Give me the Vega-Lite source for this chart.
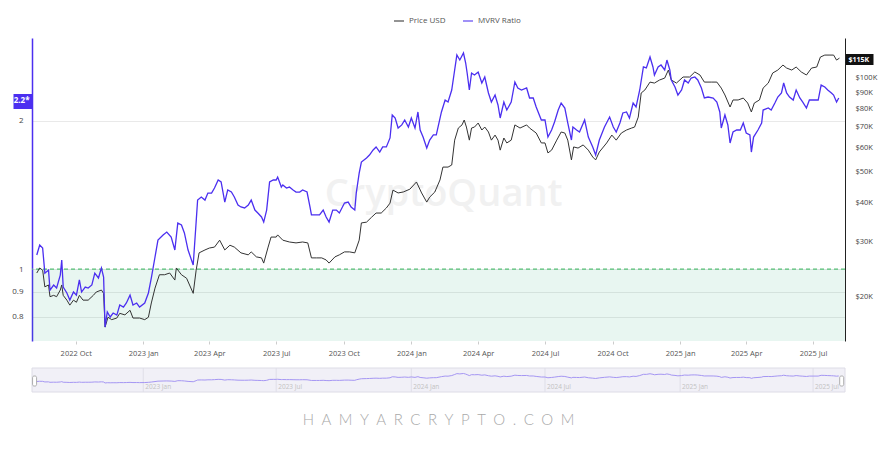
{
  "$schema": "https://vega.github.io/schema/vega-lite/v6.json",
  "width": 813,
  "height": 354,
  "autosize": {"type": "none"},
  "padding": {"left": 32, "top": 38, "right": 40, "bottom": 62},
  "background": "white",
  "config": {"view": {"stroke": null}, "font": "Open Sans", "axis": {"labelFont": "Open Sans"}, "legend": {"labelFont": "Open Sans"}},
  "title": {"text": "H\u2002A\u2002M\u2002Y\u2002A\u2002R\u2002C\u2002R\u2002Y\u2002P\u2002T\u2002O\u2002.\u2002C\u2002O\u2002M", "orient": "bottom", "frame": "group", "anchor": "middle", "offset": 20, "fontSize": 15, "fontWeight": 300, "font": "Lato", "color": "#a9a9a9"},
  "datasets": {
    "price": [
      {"date":"2022-08-09","price":23700},{"date":"2022-08-13","price":24600},{"date":"2022-08-17","price":24200},{"date":"2022-08-20","price":21400},{"date":"2022-08-25","price":21700},{"date":"2022-08-27","price":19900},{"date":"2022-09-01","price":20100},{"date":"2022-09-05","price":19900},{"date":"2022-09-10","price":20900},{"date":"2022-09-12","price":21700},{"date":"2022-09-14","price":20100},{"date":"2022-09-19","price":19400},{"date":"2022-09-23","price":18700},{"date":"2022-09-28","price":19400},{"date":"2022-10-02","price":19100},{"date":"2022-10-06","price":20100},{"date":"2022-10-11","price":19400},{"date":"2022-10-18","price":19400},{"date":"2022-10-25","price":20100},{"date":"2022-10-29","price":20600},{"date":"2022-11-05","price":20900},{"date":"2022-11-08","price":20400},{"date":"2022-11-10","price":15900},{"date":"2022-11-14","price":17100},{"date":"2022-11-19","price":16800},{"date":"2022-11-26","price":17000},{"date":"2022-11-30","price":17600},{"date":"2022-12-07","price":17400},{"date":"2022-12-14","price":18000},{"date":"2022-12-18","price":17000},{"date":"2022-12-27","price":17000},
      {"date":"2023-01-03","price":16800},{"date":"2023-01-08","price":17100},{"date":"2023-01-12","price":19000},{"date":"2023-01-17","price":21200},{"date":"2023-01-23","price":23400},{"date":"2023-01-30","price":23400},{"date":"2023-02-06","price":23700},{"date":"2023-02-13","price":22500},{"date":"2023-02-15","price":24600},{"date":"2023-02-22","price":23400},{"date":"2023-03-01","price":22800},{"date":"2023-03-10","price":20400},{"date":"2023-03-14","price":24200},{"date":"2023-03-18","price":27500},{"date":"2023-03-26","price":28100},{"date":"2023-04-01","price":28500},{"date":"2023-04-08","price":28700},{"date":"2023-04-15","price":30200},{"date":"2023-04-22","price":28100},{"date":"2023-04-29","price":29100},{"date":"2023-05-05","price":28700},{"date":"2023-05-14","price":27500},{"date":"2023-05-24","price":27100},{"date":"2023-05-28","price":27700},{"date":"2023-06-04","price":26700},{"date":"2023-06-11","price":26500},{"date":"2023-06-14","price":25500},{"date":"2023-06-20","price":28700},{"date":"2023-06-24","price":30900},{"date":"2023-07-01","price":30900},{"date":"2023-07-03","price":31400},{"date":"2023-07-10","price":30200},{"date":"2023-07-19","price":29800},{"date":"2023-07-28","price":29600},{"date":"2023-08-06","price":29800},{"date":"2023-08-13","price":29600},{"date":"2023-08-18","price":26500},{"date":"2023-08-25","price":26500},{"date":"2023-09-01","price":26500},{"date":"2023-09-07","price":26100},{"date":"2023-09-11","price":25500},{"date":"2023-09-19","price":26700},{"date":"2023-09-25","price":27100},{"date":"2023-10-02","price":27700},{"date":"2023-10-09","price":27700},{"date":"2023-10-16","price":27500},{"date":"2023-10-22","price":30200},{"date":"2023-10-25","price":34300},{"date":"2023-11-01","price":34500},{"date":"2023-11-08","price":35800},{"date":"2023-11-14","price":36900},{"date":"2023-11-21","price":36900},{"date":"2023-11-28","price":38300},{"date":"2023-12-03","price":39700},{"date":"2023-12-07","price":43700},{"date":"2023-12-14","price":42800},{"date":"2023-12-21","price":43100},{"date":"2023-12-30","price":44000},
      {"date":"2024-01-08","price":46400},{"date":"2024-01-15","price":42800},{"date":"2024-01-22","price":40000},{"date":"2024-01-26","price":41500},{"date":"2024-02-02","price":43100},{"date":"2024-02-09","price":47100},{"date":"2024-02-13","price":51800},{"date":"2024-02-20","price":51800},{"date":"2024-02-25","price":52600},{"date":"2024-02-29","price":63200},{"date":"2024-03-05","price":69100},{"date":"2024-03-10","price":70700},{"date":"2024-03-13","price":73300},{"date":"2024-03-16","price":69600},{"date":"2024-03-20","price":63200},{"date":"2024-03-23","price":69100},{"date":"2024-03-27","price":69600},{"date":"2024-04-01","price":71700},{"date":"2024-04-06","price":68100},{"date":"2024-04-10","price":69600},{"date":"2024-04-15","price":67100},{"date":"2024-04-19","price":63200},{"date":"2024-04-24","price":65600},{"date":"2024-04-28","price":63200},{"date":"2024-05-01","price":58700},{"date":"2024-05-06","price":64200},{"date":"2024-05-10","price":61900},{"date":"2024-05-16","price":63200},{"date":"2024-05-21","price":70700},{"date":"2024-05-28","price":69100},{"date":"2024-06-06","price":70700},{"date":"2024-06-10","price":69100},{"date":"2024-06-19","price":66600},{"date":"2024-06-26","price":61900},{"date":"2024-07-01","price":61900},{"date":"2024-07-05","price":57500},{"date":"2024-07-10","price":58700},{"date":"2024-07-17","price":63200},{"date":"2024-07-23","price":67100},{"date":"2024-07-28","price":66600},{"date":"2024-08-01","price":63200},{"date":"2024-08-06","price":54600},{"date":"2024-08-09","price":60100},{"date":"2024-08-15","price":59600},{"date":"2024-08-22","price":61000},{"date":"2024-08-29","price":58700},{"date":"2024-09-04","price":55800},{"date":"2024-09-08","price":54600},{"date":"2024-09-13","price":57900},{"date":"2024-09-23","price":61900},{"date":"2024-09-30","price":65600},{"date":"2024-10-06","price":63200},{"date":"2024-10-13","price":66600},{"date":"2024-10-20","price":68100},{"date":"2024-10-27","price":69100},{"date":"2024-10-31","price":69600},{"date":"2024-11-05","price":74900},{"date":"2024-11-09","price":89500},{"date":"2024-11-14","price":91500},{"date":"2024-11-21","price":97000},{"date":"2024-11-27","price":96300},{"date":"2024-12-04","price":98500},{"date":"2024-12-11","price":99900},{"date":"2024-12-16","price":106000},{"date":"2024-12-20","price":98500},{"date":"2024-12-27","price":96300},
      {"date":"2025-01-05","price":100700},{"date":"2025-01-14","price":100700},{"date":"2025-01-21","price":104500},{"date":"2025-01-28","price":102200},{"date":"2025-02-03","price":97000},{"date":"2025-02-13","price":97000},{"date":"2025-02-20","price":97000},{"date":"2025-02-26","price":92800},{"date":"2025-03-03","price":88200},{"date":"2025-03-10","price":80700},{"date":"2025-03-14","price":85000},{"date":"2025-03-21","price":85000},{"date":"2025-03-28","price":86200},{"date":"2025-04-03","price":83100},{"date":"2025-04-08","price":77800},{"date":"2025-04-12","price":83100},{"date":"2025-04-19","price":85000},{"date":"2025-04-24","price":92800},{"date":"2025-05-01","price":96300},{"date":"2025-05-07","price":103700},{"date":"2025-05-14","price":106000},{"date":"2025-05-21","price":110000},{"date":"2025-05-26","price":107600},{"date":"2025-06-02","price":106000},{"date":"2025-06-08","price":108400},{"date":"2025-06-15","price":104500},{"date":"2025-06-22","price":102200},{"date":"2025-06-29","price":107600},{"date":"2025-07-06","price":108400},{"date":"2025-07-11","price":116700},{"date":"2025-07-17","price":118400},{"date":"2025-07-24","price":118400},{"date":"2025-07-29","price":118400},{"date":"2025-08-02","price":114100},{"date":"2025-08-06","price":115800}
    ],
    "mvrv": [
      {"date":"2022-08-09","mvrv":1.068},{"date":"2022-08-13","mvrv":1.119},{"date":"2022-08-17","mvrv":1.103},{"date":"2022-08-20","mvrv":0.981},{"date":"2022-08-25","mvrv":0.995},{"date":"2022-08-27","mvrv":0.906},{"date":"2022-09-01","mvrv":0.928},{"date":"2022-09-05","mvrv":0.915},{"date":"2022-09-10","mvrv":0.972},{"date":"2022-09-12","mvrv":1.043},{"date":"2022-09-14","mvrv":0.919},{"date":"2022-09-19","mvrv":0.894},{"date":"2022-09-23","mvrv":0.865},{"date":"2022-09-28","mvrv":0.898},{"date":"2022-10-02","mvrv":0.885},{"date":"2022-10-06","mvrv":0.950},{"date":"2022-10-09","mvrv":0.898},{"date":"2022-10-14","mvrv":0.919},{"date":"2022-10-18","mvrv":0.915},{"date":"2022-10-23","mvrv":0.928},{"date":"2022-10-27","mvrv":0.981},{"date":"2022-11-01","mvrv":0.959},{"date":"2022-11-05","mvrv":1.005},{"date":"2022-11-08","mvrv":0.963},{"date":"2022-11-10","mvrv":0.762},{"date":"2022-11-13","mvrv":0.818},{"date":"2022-11-17","mvrv":0.799},{"date":"2022-11-21","mvrv":0.814},{"date":"2022-11-26","mvrv":0.806},{"date":"2022-11-30","mvrv":0.845},{"date":"2022-12-05","mvrv":0.837},{"date":"2022-12-09","mvrv":0.853},{"date":"2022-12-14","mvrv":0.885},{"date":"2022-12-18","mvrv":0.845},{"date":"2022-12-23","mvrv":0.853},{"date":"2022-12-27","mvrv":0.837},
      {"date":"2023-01-03","mvrv":0.853},{"date":"2023-01-08","mvrv":0.894},{"date":"2023-01-12","mvrv":0.959},{"date":"2023-01-17","mvrv":1.058},{"date":"2023-01-21","mvrv":1.145},{"date":"2023-01-28","mvrv":1.173},{"date":"2023-02-02","mvrv":1.189},{"date":"2023-02-08","mvrv":1.162},{"date":"2023-02-13","mvrv":1.093},{"date":"2023-02-17","mvrv":1.240},{"date":"2023-02-22","mvrv":1.229},{"date":"2023-02-26","mvrv":1.184},{"date":"2023-03-03","mvrv":1.093},{"date":"2023-03-10","mvrv":1.019},{"date":"2023-03-14","mvrv":1.246},{"date":"2023-03-16","mvrv":1.381},{"date":"2023-03-21","mvrv":1.401},{"date":"2023-03-26","mvrv":1.381},{"date":"2023-03-30","mvrv":1.427},{"date":"2023-04-04","mvrv":1.427},{"date":"2023-04-08","mvrv":1.461},{"date":"2023-04-13","mvrv":1.517},{"date":"2023-04-17","mvrv":1.503},{"date":"2023-04-22","mvrv":1.368},{"date":"2023-04-26","mvrv":1.448},{"date":"2023-05-01","mvrv":1.434},{"date":"2023-05-05","mvrv":1.401},{"date":"2023-05-10","mvrv":1.349},{"date":"2023-05-14","mvrv":1.337},{"date":"2023-05-19","mvrv":1.331},{"date":"2023-05-24","mvrv":1.349},{"date":"2023-05-28","mvrv":1.381},{"date":"2023-06-02","mvrv":1.318},{"date":"2023-06-06","mvrv":1.300},{"date":"2023-06-11","mvrv":1.276},{"date":"2023-06-14","mvrv":1.246},{"date":"2023-06-18","mvrv":1.318},{"date":"2023-06-22","mvrv":1.503},{"date":"2023-06-27","mvrv":1.517},{"date":"2023-07-01","mvrv":1.517},{"date":"2023-07-03","mvrv":1.538},{"date":"2023-07-08","mvrv":1.468},{"date":"2023-07-10","mvrv":1.482},{"date":"2023-07-15","mvrv":1.461},{"date":"2023-07-19","mvrv":1.468},{"date":"2023-07-24","mvrv":1.448},{"date":"2023-07-28","mvrv":1.434},{"date":"2023-08-02","mvrv":1.434},{"date":"2023-08-06","mvrv":1.448},{"date":"2023-08-12","mvrv":1.434},{"date":"2023-08-16","mvrv":1.337},{"date":"2023-08-18","mvrv":1.288},{"date":"2023-08-25","mvrv":1.288},{"date":"2023-08-29","mvrv":1.288},{"date":"2023-09-03","mvrv":1.318},{"date":"2023-09-07","mvrv":1.276},{"date":"2023-09-11","mvrv":1.246},{"date":"2023-09-16","mvrv":1.318},{"date":"2023-09-21","mvrv":1.318},{"date":"2023-09-25","mvrv":1.300},{"date":"2023-10-02","mvrv":1.362},{"date":"2023-10-07","mvrv":1.368},{"date":"2023-10-11","mvrv":1.337},{"date":"2023-10-16","mvrv":1.318},{"date":"2023-10-18","mvrv":1.427},{"date":"2023-10-22","mvrv":1.567},{"date":"2023-10-25","mvrv":1.650},{"date":"2023-11-01","mvrv":1.682},{"date":"2023-11-05","mvrv":1.705},{"date":"2023-11-10","mvrv":1.746},{"date":"2023-11-14","mvrv":1.771},{"date":"2023-11-19","mvrv":1.729},{"date":"2023-11-23","mvrv":1.771},{"date":"2023-11-28","mvrv":1.771},{"date":"2023-12-03","mvrv":1.847},{"date":"2023-12-06","mvrv":2.057},{"date":"2023-12-10","mvrv":2.028},{"date":"2023-12-14","mvrv":1.935},{"date":"2023-12-19","mvrv":1.963},{"date":"2023-12-23","mvrv":2.009},{"date":"2023-12-28","mvrv":1.944},
      {"date":"2024-01-01","mvrv":2.028},{"date":"2024-01-06","mvrv":1.935},{"date":"2024-01-10","mvrv":2.086},{"date":"2024-01-13","mvrv":1.917},{"date":"2024-01-17","mvrv":1.855},{"date":"2024-01-22","mvrv":1.762},{"date":"2024-01-26","mvrv":1.829},{"date":"2024-01-31","mvrv":1.873},{"date":"2024-02-04","mvrv":1.873},{"date":"2024-02-11","mvrv":2.086},{"date":"2024-02-16","mvrv":2.206},{"date":"2024-02-20","mvrv":2.185},{"date":"2024-02-25","mvrv":2.312},{"date":"2024-02-29","mvrv":2.539},{"date":"2024-03-03","mvrv":2.723},{"date":"2024-03-07","mvrv":2.660},{"date":"2024-03-12","mvrv":2.749},{"date":"2024-03-15","mvrv":2.623},{"date":"2024-03-17","mvrv":2.503},{"date":"2024-03-20","mvrv":2.312},{"date":"2024-03-23","mvrv":2.503},{"date":"2024-03-27","mvrv":2.480},{"date":"2024-04-01","mvrv":2.515},{"date":"2024-04-06","mvrv":2.389},{"date":"2024-04-10","mvrv":2.457},{"date":"2024-04-15","mvrv":2.280},{"date":"2024-04-19","mvrv":2.185},{"date":"2024-04-24","mvrv":2.258},{"date":"2024-04-28","mvrv":2.155},{"date":"2024-05-01","mvrv":2.028},{"date":"2024-05-06","mvrv":2.185},{"date":"2024-05-10","mvrv":2.105},{"date":"2024-05-16","mvrv":2.185},{"date":"2024-05-21","mvrv":2.400},{"date":"2024-05-25","mvrv":2.334},{"date":"2024-05-30","mvrv":2.312},{"date":"2024-06-06","mvrv":2.334},{"date":"2024-06-10","mvrv":2.227},{"date":"2024-06-15","mvrv":2.227},{"date":"2024-06-19","mvrv":2.135},{"date":"2024-06-26","mvrv":2.009},{"date":"2024-07-01","mvrv":2.009},{"date":"2024-07-05","mvrv":1.855},{"date":"2024-07-10","mvrv":1.917},{"date":"2024-07-14","mvrv":1.990},{"date":"2024-07-19","mvrv":2.105},{"date":"2024-07-23","mvrv":2.175},{"date":"2024-07-28","mvrv":2.125},{"date":"2024-08-01","mvrv":1.981},{"date":"2024-08-06","mvrv":1.829},{"date":"2024-08-08","mvrv":1.944},{"date":"2024-08-13","mvrv":1.917},{"date":"2024-08-17","mvrv":1.899},{"date":"2024-08-24","mvrv":2.009},{"date":"2024-08-29","mvrv":1.855},{"date":"2024-09-04","mvrv":1.771},{"date":"2024-09-08","mvrv":1.705},{"date":"2024-09-13","mvrv":1.829},{"date":"2024-09-20","mvrv":1.944},{"date":"2024-09-27","mvrv":2.037},{"date":"2024-10-02","mvrv":1.944},{"date":"2024-10-06","mvrv":1.899},{"date":"2024-10-11","mvrv":1.981},{"date":"2024-10-15","mvrv":2.076},{"date":"2024-10-20","mvrv":2.086},{"date":"2024-10-24","mvrv":2.028},{"date":"2024-10-29","mvrv":2.175},{"date":"2024-11-02","mvrv":2.135},{"date":"2024-11-07","mvrv":2.312},{"date":"2024-11-12","mvrv":2.575},{"date":"2024-11-16","mvrv":2.563},{"date":"2024-11-21","mvrv":2.698},{"date":"2024-11-25","mvrv":2.575},{"date":"2024-11-27","mvrv":2.480},{"date":"2024-12-02","mvrv":2.575},{"date":"2024-12-06","mvrv":2.599},{"date":"2024-12-11","mvrv":2.539},{"date":"2024-12-14","mvrv":2.660},{"date":"2024-12-18","mvrv":2.539},{"date":"2024-12-20","mvrv":2.423},{"date":"2024-12-25","mvrv":2.345},{"date":"2024-12-29","mvrv":2.258},
      {"date":"2025-01-03","mvrv":2.312},{"date":"2025-01-07","mvrv":2.423},{"date":"2025-01-12","mvrv":2.389},{"date":"2025-01-16","mvrv":2.445},{"date":"2025-01-21","mvrv":2.457},{"date":"2025-01-25","mvrv":2.423},{"date":"2025-01-30","mvrv":2.334},{"date":"2025-02-03","mvrv":2.227},{"date":"2025-02-08","mvrv":2.237},{"date":"2025-02-15","mvrv":2.227},{"date":"2025-02-20","mvrv":2.185},{"date":"2025-02-24","mvrv":2.086},{"date":"2025-02-26","mvrv":1.935},{"date":"2025-03-03","mvrv":2.057},{"date":"2025-03-07","mvrv":1.963},{"date":"2025-03-10","mvrv":1.804},{"date":"2025-03-14","mvrv":1.899},{"date":"2025-03-19","mvrv":1.917},{"date":"2025-03-24","mvrv":1.917},{"date":"2025-03-28","mvrv":1.981},{"date":"2025-04-01","mvrv":1.890},{"date":"2025-04-06","mvrv":1.873},{"date":"2025-04-08","mvrv":1.729},{"date":"2025-04-11","mvrv":1.855},{"date":"2025-04-17","mvrv":1.917},{"date":"2025-04-22","mvrv":1.981},{"date":"2025-04-24","mvrv":2.105},{"date":"2025-05-01","mvrv":2.125},{"date":"2025-05-05","mvrv":2.105},{"date":"2025-05-10","mvrv":2.175},{"date":"2025-05-14","mvrv":2.237},{"date":"2025-05-19","mvrv":2.280},{"date":"2025-05-22","mvrv":2.389},{"date":"2025-05-26","mvrv":2.280},{"date":"2025-05-30","mvrv":2.237},{"date":"2025-06-04","mvrv":2.206},{"date":"2025-06-08","mvrv":2.312},{"date":"2025-06-13","mvrv":2.227},{"date":"2025-06-17","mvrv":2.185},{"date":"2025-06-22","mvrv":2.125},{"date":"2025-06-26","mvrv":2.206},{"date":"2025-07-01","mvrv":2.206},{"date":"2025-07-08","mvrv":2.206},{"date":"2025-07-12","mvrv":2.366},{"date":"2025-07-17","mvrv":2.345},{"date":"2025-07-21","mvrv":2.312},{"date":"2025-07-26","mvrv":2.280},{"date":"2025-07-29","mvrv":2.258},{"date":"2025-08-02","mvrv":2.185},{"date":"2025-08-05","mvrv":2.227}
    ],
    "navticks": [
      {"date":"2023-01-01","label":"2023 Jan"},{"date":"2023-07-01","label":"2023 Jul"},{"date":"2024-01-01","label":"2024 Jan"},{"date":"2024-07-01","label":"2024 Jul"},{"date":"2025-01-01","label":"2025 Jan"},{"date":"2025-07-01","label":"2025 Jul"}
    ],
    "handles": [{"date":"2022-08-06"},{"date":"2025-08-09"}]
  },
  "layer": [
    {
      "layer": [
        {
          "data": {"values": [{}]},
          "mark": {"type": "text", "text": "CryptoQuant", "fontSize": 38, "fontWeight": 600, "font": "Open Sans", "color": "#f1f1f1", "align": "center", "baseline": "middle"},
          "encoding": {
            "x": {"datum": {"year": 2024, "month": 2, "date": 14, "utc": true}, "type": "temporal"},
            "y": {"datum": 1.414, "type": "quantitative"}
          }
        },
        {
          "data": {"values": [{}]},
          "mark": {"type": "rect", "fill": "#1aa37a", "fillOpacity": 0.1},
          "encoding": {
            "y": {"datum": 1, "type": "quantitative", "scale": {"type": "log", "domain": [0.714, 2.949], "range": [303, 0], "nice": false},
              "axis": {
                "orient": "left",
                "title": null,
                "values": [0.8, 0.9, 1, 2, 2.2],
                "labelExpr": "datum.value > 2.1 ? '2.2*' : format(datum.value, '~g')",
                "labelOverlap": false,
                "labelBound": false,
                "labelFontSize": 8,
                "labelColor": {"condition": {"test": "datum.value > 2.1", "value": "#ffffff"}, "value": "#444444"},
                "labelFontWeight": {"condition": {"test": "datum.value > 2.1", "value": "bold"}, "value": "normal"},
                "labelPadding": {"condition": {"test": "datum.value > 2.1", "value": -16}, "value": 9},
                "tickColor": {"condition": {"test": "datum.value > 2.1", "value": "#4b2ff0"}, "value": "transparent"},
                "tickSize": {"condition": {"test": "datum.value > 2.1", "value": 19}, "value": 0},
                "tickWidth": {"condition": {"test": "datum.value > 2.1", "value": 15}, "value": 1},
                "domainColor": "#4b2ff0",
                "domainWidth": 1.5,
                "grid": true,
                "gridColor": "#e9e9e9",
                "gridOpacity": {"condition": {"test": "datum.value > 2.1", "value": 0}, "value": 1}
              }
            },
            "y2": {"datum": 0.714}
          }
        },
        {
          "data": {"values": [{}]},
          "mark": {"type": "rule", "color": "#55c075", "strokeDash": [4, 3], "strokeWidth": 1.2},
          "encoding": {"y": {"datum": 1, "type": "quantitative"}}
        }
      ]
    },
    {
      "data": {"name": "price"},
      "mark": {"type": "line", "strokeWidth": 1, "interpolate": "linear"},
      "encoding": {
        "x": {"field": "date", "type": "temporal",
          "scale": {"type": "utc", "nice": false, "domain": [{"year": 2022, "month": 8, "date": 2, "hours": 12, "utc": true}, {"year": 2025, "month": 8, "date": 13, "hours": 12, "utc": true}]},
          "axis": {
            "title": null,
            "offset": -51,
            "values": [
              {"year": 2022, "month": 10, "date": 1, "utc": true},
              {"year": 2023, "month": 1, "date": 1, "utc": true},
              {"year": 2023, "month": 4, "date": 1, "utc": true},
              {"year": 2023, "month": 7, "date": 1, "utc": true},
              {"year": 2023, "month": 10, "date": 1, "utc": true},
              {"year": 2024, "month": 1, "date": 1, "utc": true},
              {"year": 2024, "month": 4, "date": 1, "utc": true},
              {"year": 2024, "month": 7, "date": 1, "utc": true},
              {"year": 2024, "month": 10, "date": 1, "utc": true},
              {"year": 2025, "month": 1, "date": 1, "utc": true},
              {"year": 2025, "month": 4, "date": 1, "utc": true},
              {"year": 2025, "month": 7, "date": 1, "utc": true}
            ],
            "format": "%Y %b",
            "labelFontSize": 7.5,
            "labelColor": "#555555",
            "labelPadding": 5,
            "labelFlush": false,
            "labelOverlap": false,
            "tickSize": 3,
            "tickColor": "#cccccc",
            "domain": false,
            "grid": false
          }
        },
        "y": {"field": "price", "type": "quantitative",
          "scale": {"type": "log", "domain": [14350, 134300], "range": [303, 0], "nice": false},
          "axis": {
            "orient": "right",
            "title": null,
            "values": [20000, 30000, 40000, 50000, 60000, 70000, 80000, 90000, 100000, 115000],
            "labelExpr": "'$' + format(datum.value / 1000, '~g') + 'K'",
            "labelOverlap": false,
            "labelBound": false,
            "labelFontSize": {"condition": {"test": "datum.value > 110000", "value": 7}, "value": 7.5},
            "labelColor": {"condition": {"test": "datum.value > 110000", "value": "#ffffff"}, "value": "#444444"},
            "labelFontWeight": {"condition": {"test": "datum.value > 110000", "value": "bold"}, "value": "normal"},
            "labelPadding": {"condition": {"test": "datum.value > 110000", "value": -25}, "value": 10},
            "tickColor": {"condition": {"test": "datum.value > 110000", "value": "#111111"}, "value": "transparent"},
            "tickSize": {"condition": {"test": "datum.value > 110000", "value": 28}, "value": 0},
            "tickWidth": {"condition": {"test": "datum.value > 110000", "value": 11}, "value": 1},
            "domainColor": "#222222",
            "domainWidth": 1,
            "grid": false
          }
        },
        "color": {"datum": "Price USD", "type": "nominal",
          "scale": {"domain": ["Price USD", "MVRV Ratio"], "range": ["#333333", "#4b2ff0"]},
          "legend": {"orient": "none", "legendX": 361, "legendY": -23, "direction": "horizontal", "title": null, "symbolType": "stroke", "symbolStrokeWidth": 1.5, "symbolSize": 100, "labelFontSize": 8, "labelColor": "#555555", "columnPadding": 14, "labelOffset": 4, "padding": 0, "symbolOpacity": 0.7}
        }
      }
    },
    {
      "data": {"name": "mvrv"},
      "mark": {"type": "line", "strokeWidth": 1.3},
      "encoding": {
        "x": {"field": "date", "type": "temporal"},
        "y": {"field": "mvrv", "type": "quantitative", "scale": {"type": "log", "domain": [0.714, 2.949], "range": [303, 0], "nice": false}, "axis": null},
        "color": {"datum": "MVRV Ratio", "type": "nominal"}
      }
    },
    {
      "layer": [
        {
          "data": {"values": [{}]},
          "mark": {"type": "rect", "fill": "#f1f0f7", "stroke": "#dddce6", "strokeWidth": 1},
          "encoding": {
            "y": {"datum": -1.13, "type": "quantitative", "scale": {"domain": [-1.13, 3.9], "range": [354, 330], "nice": false, "zero": false}, "axis": null},
            "y2": {"datum": 3.9}
          }
        },
        {
          "data": {"name": "navticks"},
          "mark": {"type": "rule", "color": "#dfdee8", "strokeWidth": 1},
          "encoding": {
            "x": {"field": "date", "type": "temporal"},
            "y": {"datum": -1.13, "type": "quantitative"},
            "y2": {"datum": 3.9}
          }
        },
        {
          "data": {"name": "mvrv"},
          "mark": {"type": "line", "color": "#a596f3", "strokeWidth": 1},
          "encoding": {
            "x": {"field": "date", "type": "temporal"},
            "y": {"field": "mvrv", "type": "quantitative"}
          }
        },
        {
          "data": {"name": "navticks"},
          "mark": {"type": "text", "align": "left", "dx": 2, "baseline": "alphabetic", "fontSize": 6.5, "color": "#c2c2c2"},
          "encoding": {
            "x": {"field": "date", "type": "temporal"},
            "y": {"datum": -0.55, "type": "quantitative"},
            "text": {"field": "label", "type": "nominal"}
          }
        },
        {
          "data": {"name": "handles"},
          "mark": {"type": "tick", "orient": "vertical", "size": 10, "thickness": 4, "fill": "#ffffff", "stroke": "#9a9a9a", "strokeWidth": 0.8, "cornerRadius": 1.5, "opacity": 1},
          "encoding": {
            "x": {"field": "date", "type": "temporal"},
            "y": {"datum": 1.17, "type": "quantitative"}
          }
        }
      ]
    }
  ],
  "resolve": {"scale": {"y": "independent"}, "axis": {"y": "independent"}}
}
